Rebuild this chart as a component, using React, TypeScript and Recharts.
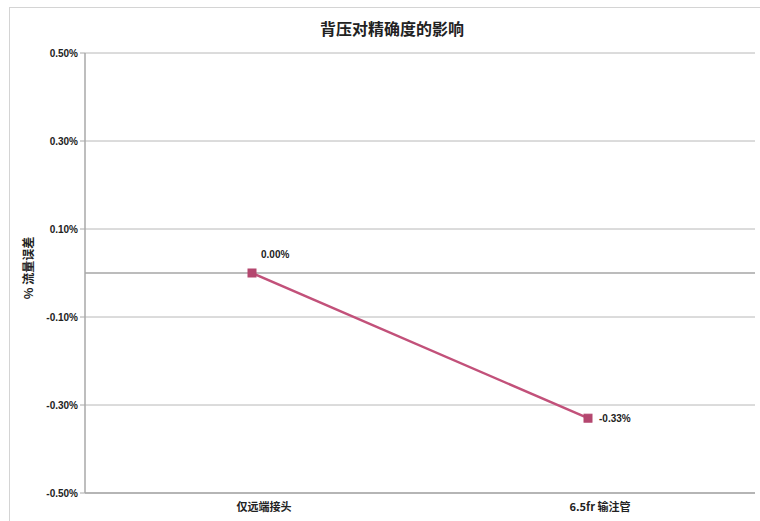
import { LineChart, Line, XAxis, YAxis, CartesianGrid, ReferenceLine, LabelList } from "recharts";

const categories = ["仅远端接头", "6.5fr 输注管"];
const flowError = [0.0, -0.33];
const yTicks = [-0.5, -0.3, -0.1, 0.1, 0.3, 0.5];

const data = categories.map((name, i) => ({ name, value: flowError[i] }));

const LINE_COLOR = "#c2517a";
const MARK_COLOR = "#b4476f";
const FONT = "'Liberation Sans', Arial, sans-serif";
const CJK = "'Noto Sans CJK SC', sans-serif";

const pct = (v: number) => `${v.toFixed(2)}%`;

function XTick(props: any) {
  const { x, y, payload } = props;
  return (
    <text x={x + 12} y={y + 10} textAnchor="middle" fontSize={11} fontWeight="bold" fontFamily={CJK} fill="#222">
      {payload.value}
    </text>
  );
}

function PointLabel(props: any) {
  const { x, y, value, index } = props;
  const first = index === 0;
  return (
    <text
      x={first ? x + 9 : x + 11}
      y={first ? y - 15 : y + 4}
      fontSize={10}
      fontWeight="bold"
      fontFamily={FONT}
      fill="#222"
    >
      {pct(value)}
    </text>
  );
}

function SquareDot(props: any) {
  const { cx, cy } = props;
  return <rect x={cx - 4} y={cy - 4} width={8} height={8} fill={MARK_COLOR} stroke={MARK_COLOR} />;
}

export default function App() {
  return (
    <div style={{ position: "absolute", left: 0, top: 0, width: 760, height: 521, background: "#fff", overflow: "hidden" }}>
      <div style={{ position: "absolute", left: 9, top: 7, width: 760, height: 530, border: "1px solid #d4d4d4" }} />
      <div
        style={{
          position: "absolute",
          left: 0,
          width: 784,
          top: 16,
          textAlign: "center",
          fontFamily: CJK,
          fontWeight: "bold",
          fontSize: 16,
          color: "#222",
        }}
      >
        背压对精确度的影响
      </div>
      <div
        style={{
          position: "absolute",
          left: 27,
          top: 268,
          transform: "translate(-50%, -50%) rotate(-90deg)",
          whiteSpace: "nowrap",
          fontFamily: CJK,
          fontWeight: "bold",
          fontSize: 12,
          color: "#222",
        }}
      >
        % 流量误差
      </div>
      <div style={{ position: "absolute", left: 0, top: 0 }}>
        <LineChart width={760} height={521} data={data} margin={{ top: 53, right: 5, left: 25, bottom: 6 }}>
          <CartesianGrid vertical={false} stroke="#b8b8b8" />
          <XAxis
            dataKey="name"
            padding={{ left: 167, right: 167 }}
            tick={<XTick />}
            tickLine={false}
            axisLine={{ stroke: "#a8a8a8", strokeWidth: 1.5 }}
            height={22}
            interval={0}
          />
          <YAxis
            type="number"
            domain={[-0.5, 0.5]}
            ticks={yTicks}
            width={60}
            tickFormatter={pct}
            tick={{ fontSize: 10, fontWeight: "bold", fill: "#222", fontFamily: FONT }}
            tickLine={{ stroke: "#a8a8a8" }}
            tickSize={5}
            axisLine={{ stroke: "#a8a8a8", strokeWidth: 1.5 }}
          />
          <ReferenceLine y={0} stroke="#7a7a7a" strokeWidth={1.2} />
          <Line
            type="linear"
            dataKey="value"
            stroke={LINE_COLOR}
            strokeWidth={2.5}
            dot={<SquareDot />}
            activeDot={false}
            isAnimationActive={false}
          >
            <LabelList dataKey="value" content={<PointLabel />} />
          </Line>
        </LineChart>
      </div>
    </div>
  );
}
